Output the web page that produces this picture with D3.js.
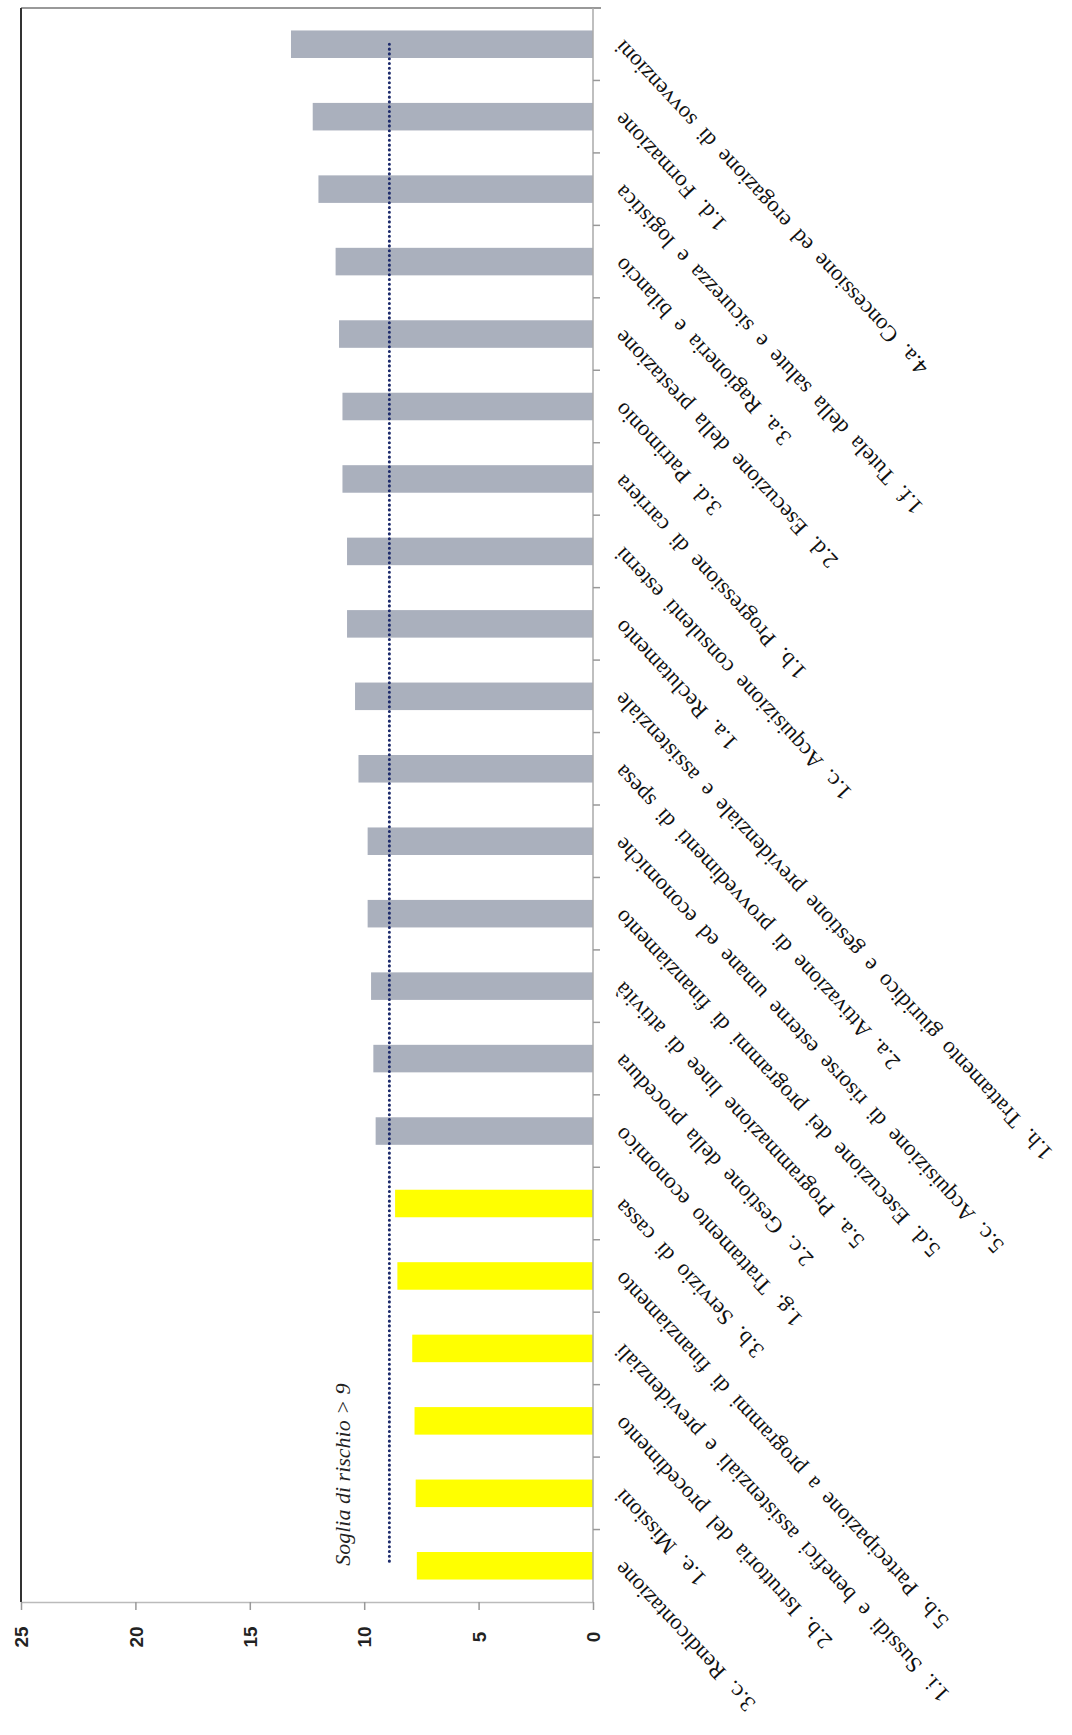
<!DOCTYPE html>
<html>
<head>
<meta charset="utf-8">
<script src="https://cdn.jsdelivr.net/npm/d3@7"></script>
<style>
  body { margin: 0; background: #fff; }
</style>
</head>
<body>
<div id="chart"></div>
<script>
const width = 1072;
const height = 1735;

// categories from the first bar (bottom) to the last (top)
const categories = [
  "3.c. Rendicontazione",
  "1.e. Missioni",
  "2.b. Istruttoria del procedimento",
  "1.i. Sussidi e benefici assistenziali e previdenziali",
  "5.b. Partecipazione a programmi di finanziamento",
  "3.b. Servizio di cassa",
  "1.g. Trattamento economico",
  "2.c. Gestione della procedura",
  "5.a. Programmazione linee di attività",
  "5.d. Esecuzione dei programmi di finanziamento",
  "5.c. Acquisizione di risorse esterne umane ed economiche",
  "2.a. Attivazione di provvedimenti di spesa",
  "1.h. Trattamento giuridico e gestione previdenziale e assistenziale",
  "1.a. Reclutamento",
  "1.c. Acquisizione consulenti esterni",
  "1.b. Progressione di carriera",
  "3.d. Patrimonio",
  "2.d. Esecuzione della prestazione",
  "3.a. Ragioneria e bilancio",
  "1.f. Tutela della salute e sicurezza e logistica",
  "1.d. Formazione",
  "4.a. Concessione ed erogazione di sovvenzioni"
];
const values = [7.7, 7.75, 7.8, 7.9, 8.55, 8.65, 9.5, 9.6, 9.7, 9.85, 9.85, 10.25,
                10.4, 10.75, 10.75, 10.95, 10.95, 11.1, 11.25, 12.0, 12.25, 13.2];
const threshold = 8.9;
const thresholdLabel = "Soglia di rischio > 9";
const valueTicks = [0, 5, 10, 15, 20, 25];

const data = categories.map((c, i) => ({ name: c, value: values[i] }));

const svg = d3.select('#chart').append('svg')
  .attr('width', width).attr('height', height)
  .style('background', '#fff');

// page is a rotated bar chart: values run right to left, categories bottom to top
const plotLeft = 21, plotRight = 593, plotTop = 8, plotBottom = 1602;

const x = d3.scaleLinear().domain([0, 25]).range([plotRight, plotLeft]);
const y = d3.scaleBand().domain(categories).range([plotBottom, plotTop])
  .paddingInner(0.62).paddingOuter(0.31);
const yc = d => y(d) + y.bandwidth() / 2;

// bars
svg.append('g').selectAll('rect').data(data).enter().append('rect')
  .attr('x', d => x(d.value))
  .attr('y', d => y(d.name))
  .attr('width', d => x(0) - x(d.value))
  .attr('height', y.bandwidth())
  .attr('fill', d => d.value < 9 ? '#ffff00' : '#aab0bd');

// frame lines
svg.append('line').attr('x1', plotLeft).attr('x2', plotRight + 8).attr('y1', plotTop).attr('y2', plotTop)
  .attr('stroke', '#777').attr('stroke-width', 1.5);
svg.append('line').attr('x1', plotLeft).attr('x2', plotLeft).attr('y1', plotTop).attr('y2', plotBottom)
  .attr('stroke', '#333').attr('stroke-width', 2);

// value axis (bottom)
const xAxis = svg.append('g').attr('transform', 'translate(0,' + plotBottom + ')')
  .call(d3.axisBottom(x).tickValues(valueTicks).tickSize(8).tickSizeOuter(0));
xAxis.select('.domain').attr('stroke', '#bbb').attr('stroke-width', 1.5);
xAxis.selectAll('.tick line').attr('stroke', '#999').attr('stroke-width', 1.5);
xAxis.selectAll('.tick text')
  .attr('y', 0).attr('dy', '0.35em')
  .attr('transform', 'translate(0,35) rotate(-90)')
  .attr('text-anchor', 'middle')
  .attr('font-family', '"Liberation Sans", Arial, sans-serif')
  .attr('font-size', 19).attr('font-weight', 'bold')
  .attr('fill', '#222');

// category axis (right), ticks between the bars
svg.append('line').attr('x1', plotRight).attr('x2', plotRight).attr('y1', plotTop).attr('y2', plotBottom)
  .attr('stroke', '#aaa').attr('stroke-width', 1.5);
const bounds = categories.slice(1).map(c => y(c) + y.bandwidth() + (y.step() - y.bandwidth()) / 2);
svg.append('g').selectAll('line').data(bounds).enter().append('line')
  .attr('x1', plotRight).attr('x2', plotRight + 7)
  .attr('y1', d => d).attr('y2', d => d)
  .attr('stroke', '#999').attr('stroke-width', 1.5);

svg.append('g').selectAll('text').data(data).enter().append('text')
  .attr('transform', d => 'translate(' + (plotRight + 25) + ',' + yc(d.name) + ') rotate(-133)')
  .attr('text-anchor', 'end')
  .attr('dy', '0.35em')
  .attr('font-family', '"Liberation Serif", "Times New Roman", serif')
  .attr('font-size', 22.5)
  .attr('word-spacing', 5.5)
  .attr('fill', '#111')
  .text(d => d.name);

// threshold line
svg.append('line')
  .attr('x1', x(threshold)).attr('x2', x(threshold))
  .attr('y1', yc(categories[categories.length - 1])).attr('y2', yc(categories[0]))
  .attr('stroke', '#1c2a6b').attr('stroke-width', 3)
  .attr('stroke-linecap', 'round').attr('stroke-dasharray', '0.1 4.7');

svg.append('text')
  .attr('transform', 'translate(' + (x(threshold) - 47) + ',' + yc(categories[0]) + ') rotate(-90)')
  .attr('text-anchor', 'start').attr('dy', '0.35em')
  .attr('font-family', '"Liberation Serif", serif')
  .attr('font-style', 'italic')
  .attr('font-size', 22)
  .attr('fill', '#222')
  .text(thresholdLabel);
</script>
</body>
</html>
